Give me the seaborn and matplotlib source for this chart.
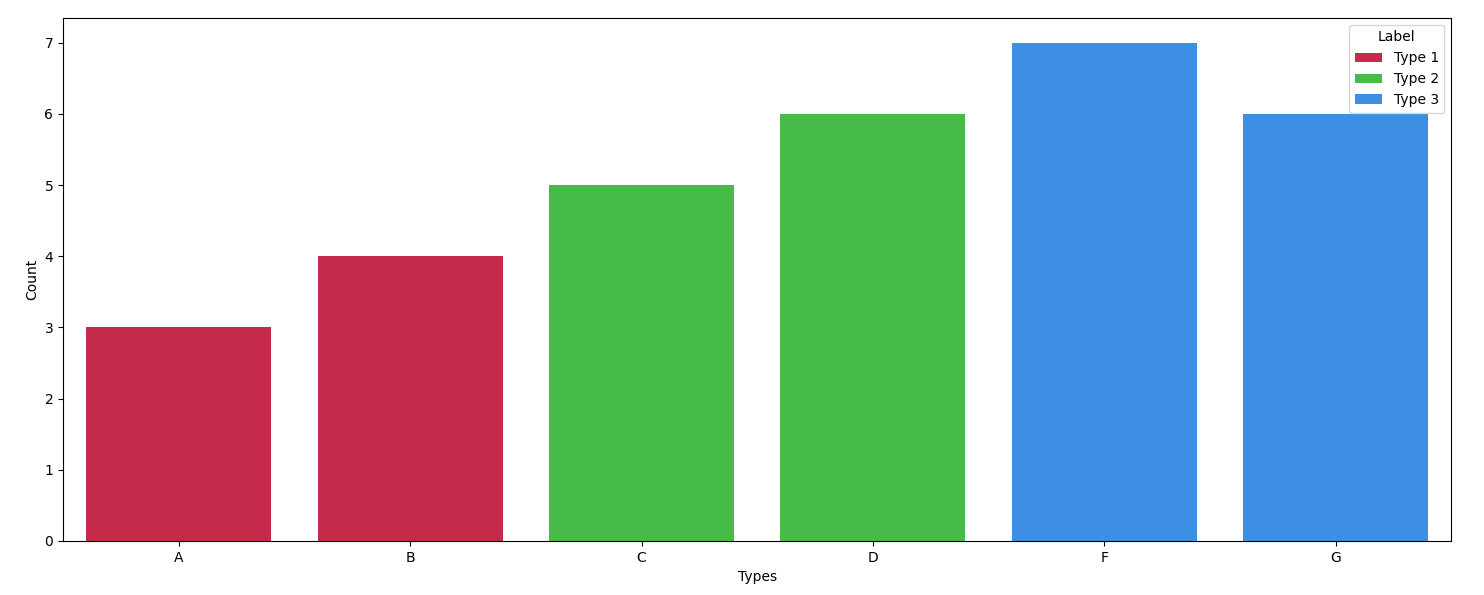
import matplotlib
matplotlib.use("Agg")
import matplotlib.pyplot as plt
import seaborn as sns
import pandas as pd

types = ["A", "B", "C", "D", "F", "G"]
counts = [3, 4, 5, 6, 7, 6]
labels = ["Type 1", "Type 1", "Type 2", "Type 2", "Type 3", "Type 3"]
palette = {"Type 1": "#C42B4A", "Type 2": "#46BB47", "Type 3": "#3C8FE3"}

df = pd.DataFrame({"Types": types, "Count": counts, "Label": labels})

fig, ax = plt.subplots(figsize=(14.84, 5.95), dpi=100)
sns.barplot(data=df, x="Types", y="Count", hue="Label", palette=palette,
            dodge=False, saturation=1, ax=ax)
ax.legend(title="Label", loc="upper right")
fig.subplots_adjust(left=0.0425, right=0.978, top=0.970, bottom=0.0908)
fig.savefig("out.png", dpi=100)
